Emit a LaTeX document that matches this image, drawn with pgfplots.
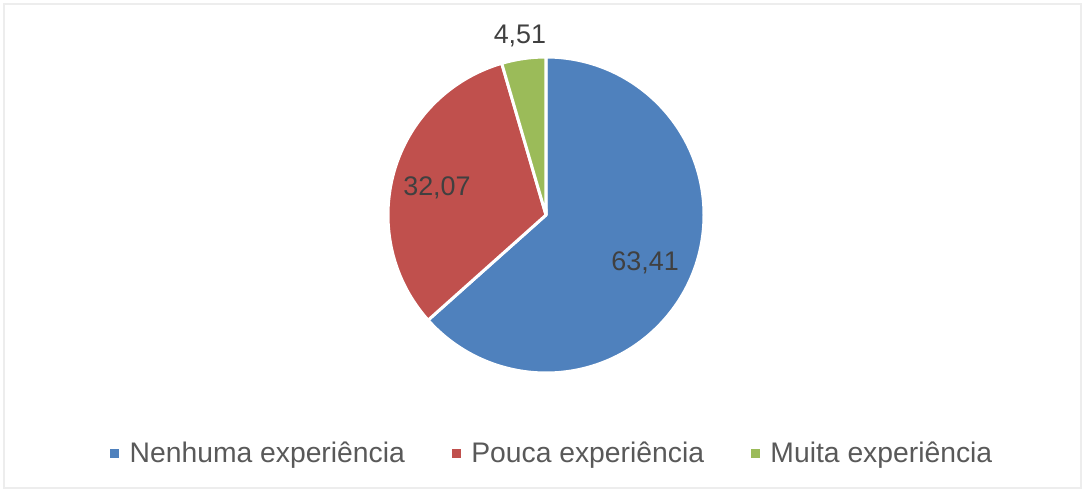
\documentclass[border=0pt]{standalone}
\usepackage{fontspec}
\setmainfont{Liberation Sans}
\usepackage{pgfplots}
\pgfplotsset{compat=1.18}

\definecolor{sblue}{RGB}{79,129,189}
\definecolor{sred}{RGB}{192,80,77}
\definecolor{sgreen}{RGB}{155,187,89}
\definecolor{lbl}{RGB}{64,64,64}
\definecolor{leg}{RGB}{89,89,89}

% shares (percent)
\def\va{63.41}
\def\vb{32.07}
\def\vc{4.51}
\pgfmathsetmacro\aA{90-3.6*\va}
\pgfmathsetmacro\aB{\aA-3.6*\vb}
\pgfmathsetmacro\aC{\aB-3.6*\vc}

\begin{document}
\begin{tikzpicture}
\draw[gray!14, line width=1.5bp] (4bp,3bp) rectangle (1081bp,487bp);
\begin{axis}[
    at={(546bp,276bp)}, anchor=center,
    scale only axis,
    width=316bp, height=316bp,
    xmin=-1, xmax=1, ymin=-1, ymax=1,
    hide axis,
    clip=false,
    legend columns=3,
    legend style={
        at={(-0.889,-0.253)}, anchor=west,
        draw=none, fill=none,
        font=\fontsize{28.4}{34}\selectfont,
        text=leg,
        nodes={inner sep=0pt},
        /tikz/every odd column/.append style={column sep=11bp},
        /tikz/every even column/.append style={column sep=47bp},
    },
    legend image code/.code={\fill[#1] (0bp,-4bp) rectangle (8bp,4bp);},
]
\addlegendimage{sblue}
\addlegendentry{Nenhuma experiência}
\addlegendimage{sred}
\addlegendentry{Pouca experiência}
\addlegendimage{sgreen}
\addlegendentry{Muita experiência}

\filldraw[fill=sblue, draw=white, line width=3bp, line join=round]
  (axis cs:0,0) -- ++(90:158bp) arc[start angle=90, end angle=\aA, radius=158bp] -- cycle;
\filldraw[fill=sred, draw=white, line width=3bp, line join=round]
  (axis cs:0,0) -- ++(\aA:158bp) arc[start angle=\aA, end angle=\aB, radius=158bp] -- cycle;
\filldraw[fill=sgreen, draw=white, line width=3bp, line join=round]
  (axis cs:0,0) -- ++(\aB:158bp) arc[start angle=\aB, end angle=\aC, radius=158bp] -- cycle;

\node[text=lbl, font=\fontsize{27}{32}\selectfont] at (axis cs:0.627,-0.304) {63,41};
\node[text=lbl, font=\fontsize{27}{32}\selectfont] at (axis cs:-0.69,0.171) {32,07};
\node[text=lbl, font=\fontsize{27}{32}\selectfont] at (axis cs:-0.165,1.133) {4,51};
\end{axis}
\useasboundingbox (0,0) rectangle (1084bp,491bp);
\end{tikzpicture}
\end{document}
